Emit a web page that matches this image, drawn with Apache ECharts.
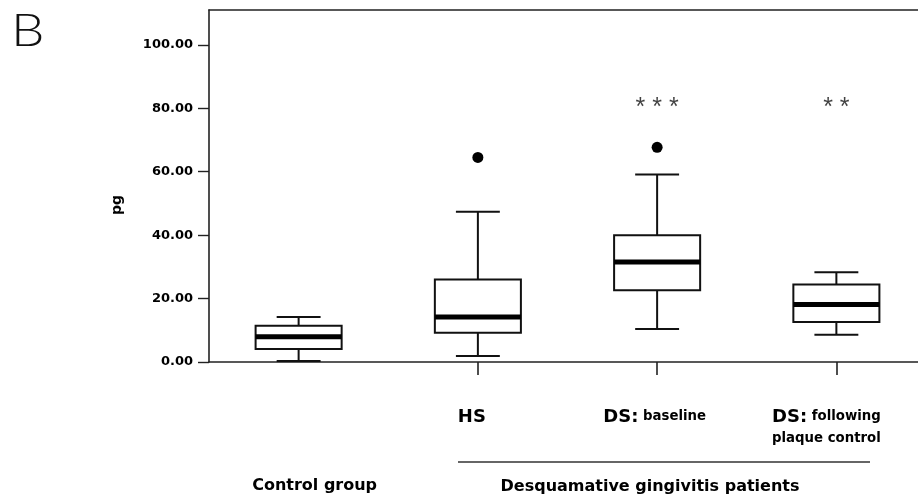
<!DOCTYPE html>
<html>
<head>
<meta charset="utf-8">
<script src="https://cdn.jsdelivr.net/npm/echarts@6/dist/echarts.min.js"></script>
<style>html,body{margin:0;padding:0;background:#fff}#chart{width:918px;height:504px}</style>
</head>
<body>
<div id="chart"></div>
<script>
// ---- data ----
const categories = ['Control group', 'HS', 'DS: baseline', 'DS: following\nplaque control'];
const whiskerMin = [0.3, 1.9, 10.4, 8.6];
const q1         = [4.1, 9.2, 22.6, 12.6];
const median     = [8.0, 14.2, 31.5, 18.1];
const q3         = [11.4, 26.0, 40.0, 24.4];
const whiskerMax = [14.2, 47.4, 59.1, 28.3];
const outlierCategory = [1, 2];
const outlierValue    = [64.5, 67.7];
const sigMarks = ['', '', '* * *', '* *'];
const sigLevel = [80, 80, 80, 80];
const yTicks = [0, 20, 40, 60, 80, 100];
const groupLabel = 'Desquamative gingivitis patients';
const panelLetter = 'B';
const yName = 'pg';

const FONT = 'DejaVu Sans';
const chart = echarts.init(document.getElementById('chart'), null, {renderer: 'canvas'});

const boxData = categories.map((c, i) => [i, whiskerMin[i], q1[i], median[i], q3[i], whiskerMax[i]]);
const outlierData = outlierCategory.map((c, i) => [c, outlierValue[i]]);
const sigData = categories.map((c, i) => [i, sigLevel[i]]).filter((d, i) => sigMarks[i]);
const sigText = sigMarks.filter(s => s);

// per-label horizontal nudges (spacer widths)
function labelFor(value, index) {
  const lines = value.split('\n');
  if (index === 0) {
    return '{sp| }\n{w32| }{ctrl|' + value + '}';
  }
  const pad = ['', '{w12| }', '{w5| }', '{w20| }'][index];
  return lines.map((ln, li) => {
    let out;
    const k = ln.indexOf(':');
    if (k >= 0) out = '{big|' + ln.slice(0, k + 1) + '}{small|' + ln.slice(k + 1) + '}';
    else if (li === 0) out = '{big|' + ln + '}';
    else out = '{small|' + ln + '}';
    return out + pad;
  }).join('\n');
}

const option = {
  animation: false,
  backgroundColor: '#fff',
  grid: {left: 209, width: 717, top: 10, bottom: 142, outerBoundsMode: 'none', containLabel: false},
  xAxis: [{
    type: 'category',
    data: categories,
    boundaryGap: true,
    axisLine: {show: true, lineStyle: {color: '#222', width: 1.6}},
    axisTick: {
      show: true, alignWithLabel: true, length: 13,
      interval: (i) => i > 0,
      lineStyle: {color: '#222', width: 1.6}
    },
    axisLabel: {
      interval: 0, margin: 44, color: '#000',
      fontFamily: FONT, fontWeight: 'bold',
      formatter: labelFor,
      rich: {
        big: {fontFamily: FONT, fontWeight: 'bold', fontSize: 18, lineHeight: 22, color: '#000'},
        small: {fontFamily: FONT, fontWeight: 'bold', fontSize: 13.3, lineHeight: 22, color: '#000'},
        ctrl: {fontFamily: FONT, fontWeight: 'bold', fontSize: 16, lineHeight: 22, color: '#000'},
        sp: {fontSize: 10, lineHeight: 69},
        w32: {width: 32, fontSize: 10},
        w12: {width: 12, fontSize: 10},
        w5: {width: 5, fontSize: 10},
        w20: {width: 20, fontSize: 10}
      }
    },
    splitLine: {show: false}
  }, {
    type: 'category',
    data: categories,
    position: 'top',
    axisLine: {show: true, lineStyle: {color: '#222', width: 1.6}},
    axisTick: {show: false},
    axisLabel: {show: false},
    splitLine: {show: false}
  }],
  yAxis: {
    type: 'value',
    min: 0, max: 111,
    axisLine: {show: true, lineStyle: {color: '#222', width: 1.6}},
    axisTick: {show: true, length: 11, customValues: yTicks, lineStyle: {color: '#222', width: 1.4}},
    axisLabel: {
      customValues: yTicks, margin: 16, color: '#000',
      fontFamily: FONT, fontWeight: 'bold', fontSize: 13,
      formatter: v => v.toFixed(2)
    },
    splitLine: {show: false}
  },
  series: [{
    type: 'custom',
    xAxisIndex: 0,
    data: boxData,
    encode: {x: 0, y: [1, 2, 3, 4, 5]},
    renderItem: function (params, api) {
      const x = api.value(0);
      const lo = api.coord([x, api.value(1)]);
      const b1 = api.coord([x, api.value(2)]);
      const md = api.coord([x, api.value(3)]);
      const b3 = api.coord([x, api.value(4)]);
      const hi = api.coord([x, api.value(5)]);
      const band = api.size([1, 0])[0];
      const bw = band * 0.48, cw = band * 0.245;
      const cx = lo[0];
      const ls = {stroke: '#111', lineWidth: 2};
      return {
        type: 'group',
        children: [
          {type: 'line', shape: {x1: cx, y1: hi[1], x2: cx, y2: b3[1]}, style: ls},
          {type: 'line', shape: {x1: cx, y1: b1[1], x2: cx, y2: lo[1]}, style: ls},
          {type: 'line', shape: {x1: cx - cw / 2, y1: hi[1], x2: cx + cw / 2, y2: hi[1]}, style: ls},
          {type: 'line', shape: {x1: cx - cw / 2, y1: lo[1], x2: cx + cw / 2, y2: lo[1]}, style: ls},
          {type: 'rect', shape: {x: cx - bw / 2, y: b3[1], width: bw, height: b1[1] - b3[1]},
            style: {fill: '#fff', stroke: '#111', lineWidth: 2}},
          {type: 'line', shape: {x1: cx - bw / 2, y1: md[1], x2: cx + bw / 2, y2: md[1]},
            style: {stroke: '#000', lineWidth: 5}}
        ]
      };
    }
  }, {
    type: 'scatter',
    data: outlierData,
    symbol: 'circle',
    symbolSize: 11,
    itemStyle: {color: '#000', opacity: 1}
  }, {
    type: 'scatter',
    data: sigData,
    symbolSize: 0,
    label: {
      show: true, position: 'inside',
      formatter: p => sigText[p.dataIndex],
      fontFamily: 'Liberation Sans', fontSize: 25, color: '#111'
    }
  }],
  graphic: [
    {type: 'text', x: 11, y: 8, scaleX: 1.15, style: {text: panelLetter, fontFamily: 'Lato', fontWeight: 300, fontSize: 46, fill: '#111'}},
    {type: 'text', x: 117, y: 205, rotation: Math.PI / 2,
      style: {text: yName, fontFamily: FONT, fontWeight: 'bold', fontSize: 14, fill: '#000', align: 'center', verticalAlign: 'middle'}},
    {type: 'line', shape: {x1: 458, y1: 462, x2: 870, y2: 462}, style: {stroke: '#333', lineWidth: 1.6}},
    {type: 'text', x: 650, y: 487,
      style: {text: groupLabel, fontFamily: FONT, fontWeight: 'bold', fontSize: 16, fill: '#000', align: 'center', verticalAlign: 'middle'}}
  ]
};
chart.setOption(option);
</script>
</body>
</html>
